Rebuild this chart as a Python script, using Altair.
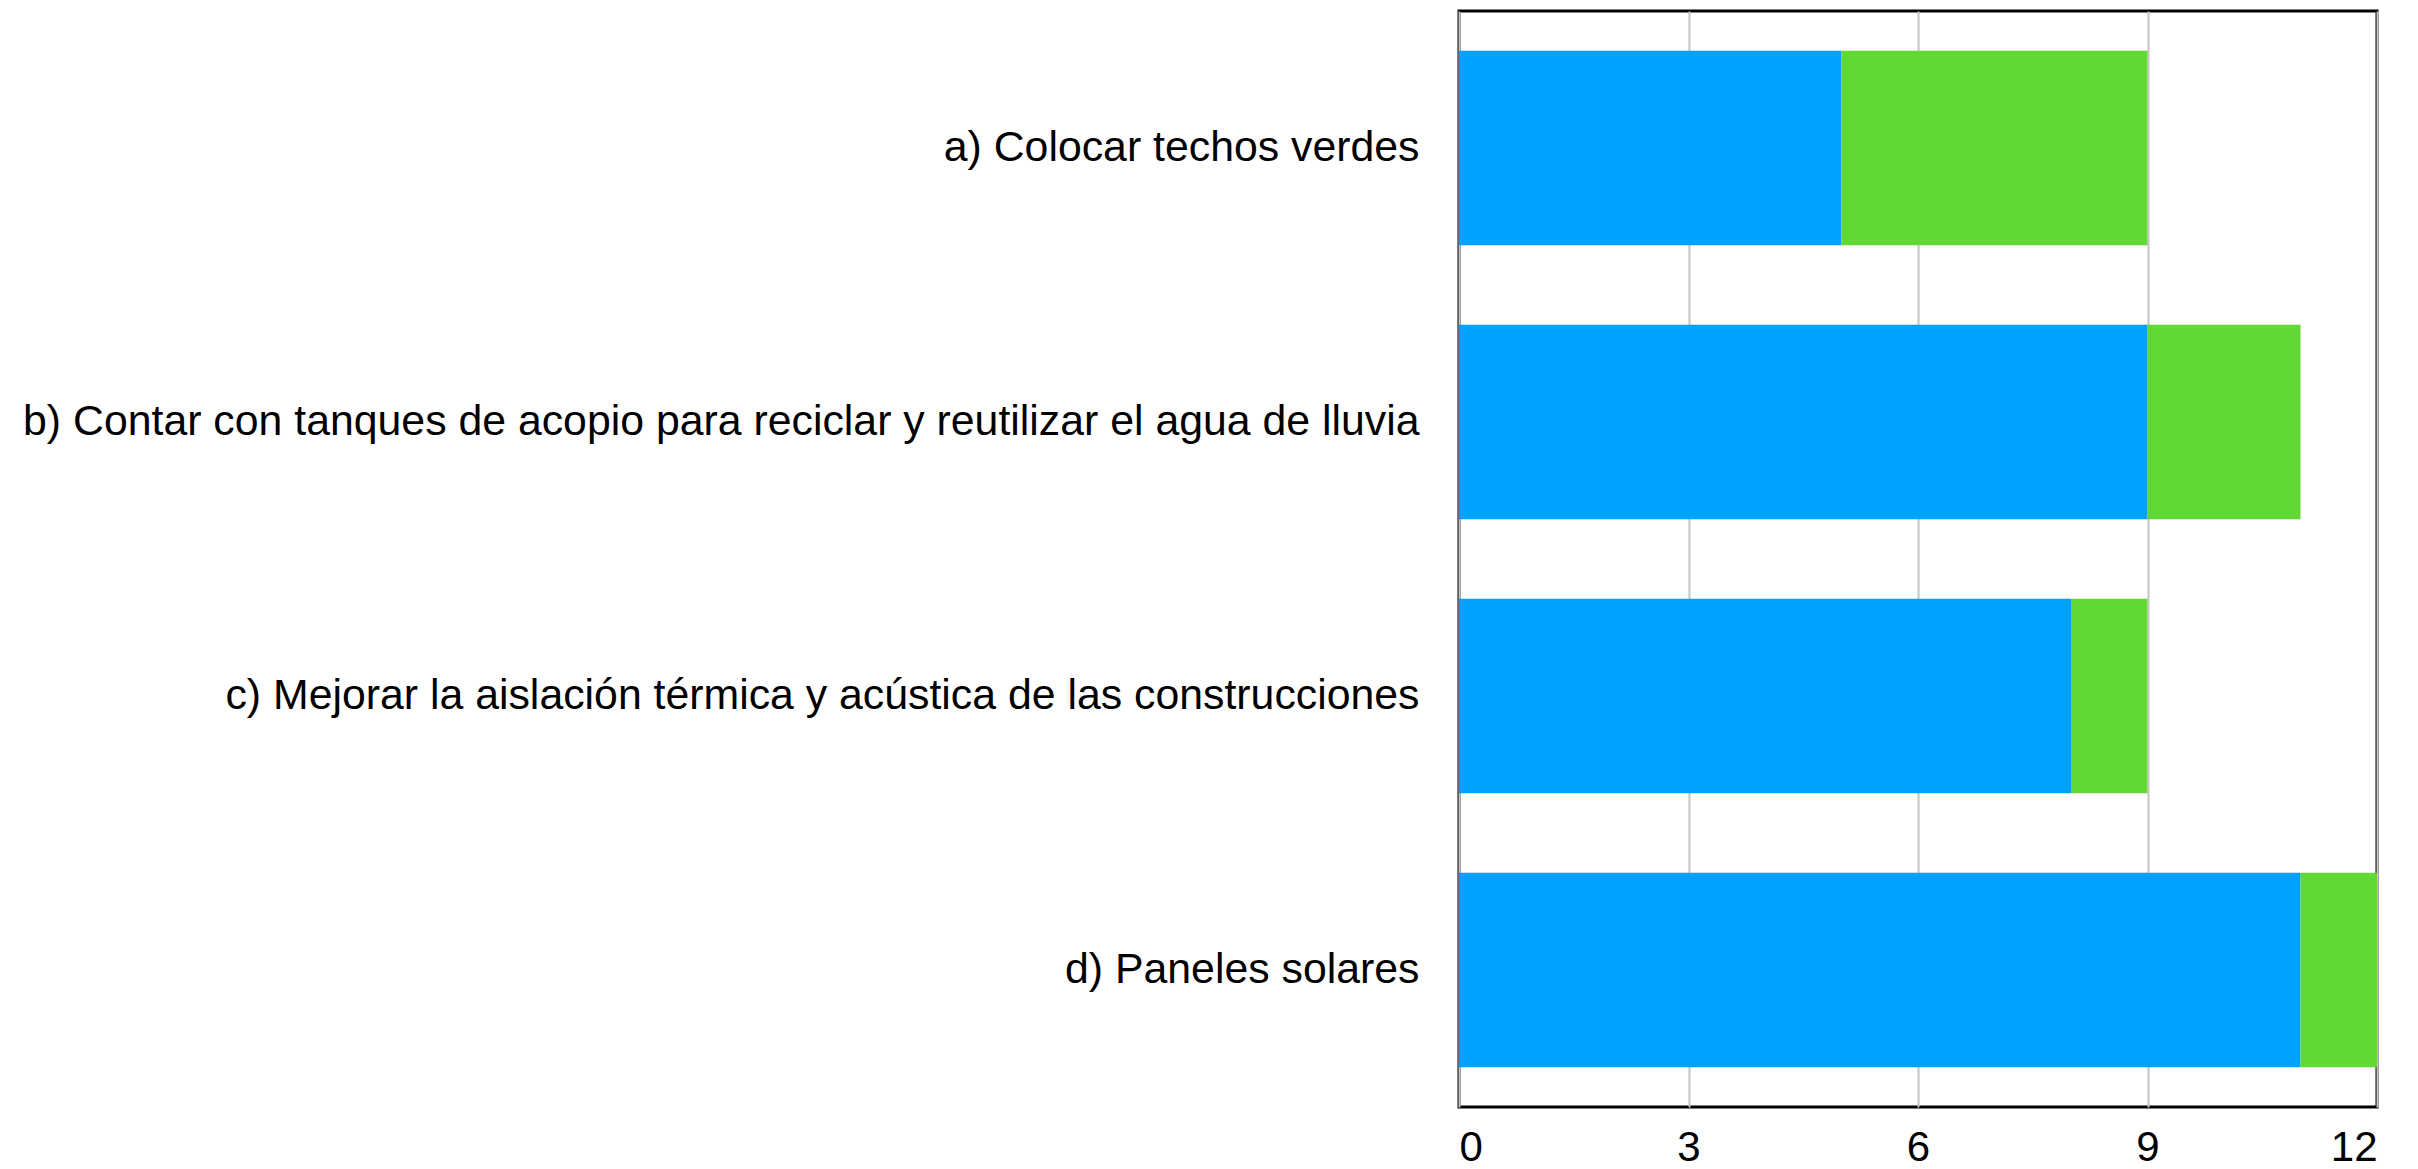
import altair as alt
import pandas as pd

categories = [
    "a) Colocar techos verdes",
    "b) Contar con tanques de acopio para reciclar y reutilizar el agua de lluvia",
    "c) Mejorar la aislación térmica y acústica de las construcciones",
    "d) Paneles solares",
]
series_names = ["Serie 1", "Serie 2"]
serie1 = [5, 9, 8, 11]
serie2 = [4, 2, 1, 1]
colors = ["#00A2FF", "#61D836"]
x_ticks = [0, 3, 6, 9, 12]

rows = []
for i, c in enumerate(categories):
    rows.append({"cat": c, "serie": series_names[0], "val": serie1[i], "ord": 0})
    rows.append({"cat": c, "serie": series_names[1], "val": serie2[i], "ord": 1})
df = pd.DataFrame(rows)

FONT = "Liberation Sans"

chart = alt.Chart(df).mark_bar().encode(
    y=alt.Y("cat:N", sort=categories, title=None,
            scale=alt.Scale(paddingInner=0.29, paddingOuter=0.145),
            axis=alt.Axis(labelFont=FONT, labelFontSize=42.8, labelColor="black",
                          labelPadding=40, ticks=False, domain=False, labelLimit=2000)),
    x=alt.X("val:Q", stack="zero", title=None,
            scale=alt.Scale(domain=[0, 12], nice=False),
            axis=alt.Axis(values=x_ticks, labelFont=FONT, labelFontSize=42, labelColor="black",
                          labelPadding=20, ticks=False, domain=False, grid=True,
                          gridColor="#c4c4c4", gridWidth=2)),
    color=alt.Color("serie:N", scale=alt.Scale(domain=series_names, range=colors), legend=None),
    order=alt.Order("ord:Q"),
).properties(
    width=918, height=1096,
    padding={"left": 14, "top": 3, "right": 5, "bottom": 5},
).configure_view(
    stroke="black", strokeWidth=3
)

chart.save("out.html", embed_options={"renderer": "svg", "actions": False})
